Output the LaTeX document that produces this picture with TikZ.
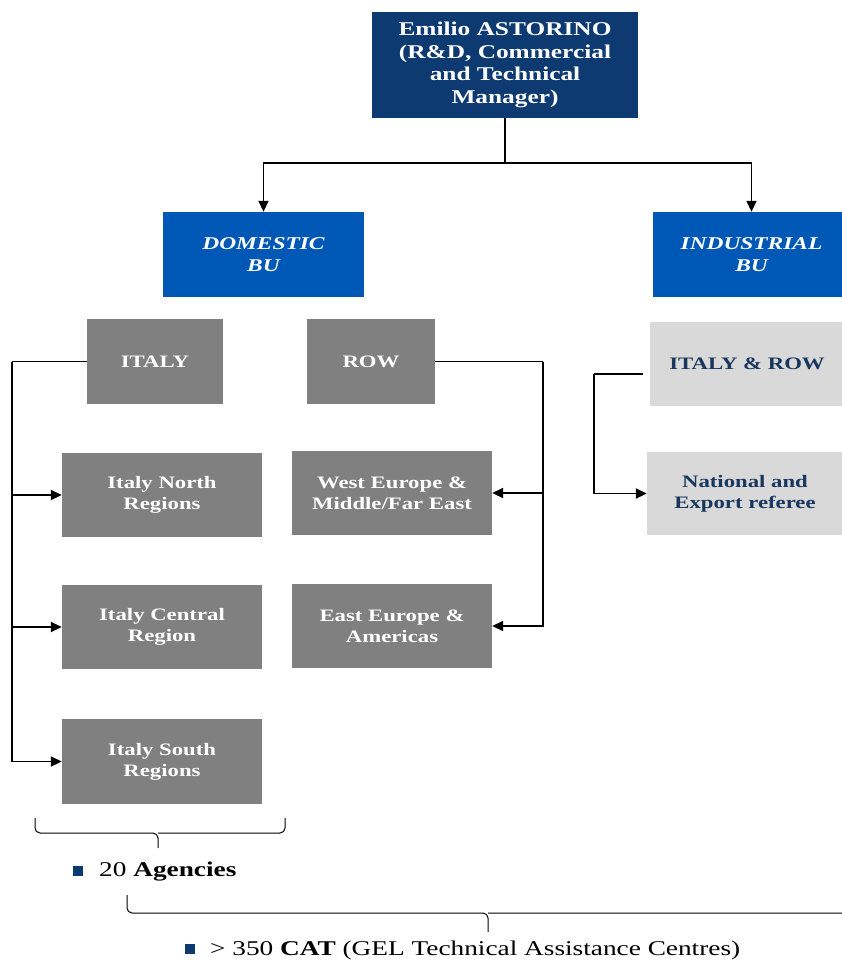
\documentclass[tikz,border=0pt]{standalone}
\usepackage{fontspec}
\setmainfont{Liberation Serif}[FakeStretch=1.3]
\usetikzlibrary{positioning, arrows.meta}

\definecolor{bossnavy}{RGB}{14,58,114}
\definecolor{bublue}{RGB}{0,88,182}
\definecolor{unitgrey}{RGB}{128,128,128}
\definecolor{lightgrey}{RGB}{217,217,217}
\definecolor{textnavy}{RGB}{23,55,94}

\begin{document}
\begin{tikzpicture}[x=1pt, y=-1pt,
  box/.style={rectangle, inner sep=2pt, align=center, text centered,
    font=\bfseries\fontsize{17.5}{21}\selectfont},
  boss/.style={box, fill=bossnavy, text=white, minimum width=266pt, minimum height=106pt,
    font=\bfseries\fontsize{19.5}{22.5}\selectfont},
  bu/.style={box, fill=bublue, text=white, minimum height=85pt,
    font=\bfseries\itshape\fontsize{18}{22}\selectfont},
  unit/.style={box, fill=unitgrey, text=white, minimum height=84pt},
  light/.style={box, fill=lightgrey, text=textnavy, minimum height=84pt},
  arrow/.style={-{Triangle[length=11pt, width=10pt]}, line width=1.8pt},
  link/.style={line width=1.8pt},
  note/.style={anchor=west, inner sep=0pt, font=\fontsize{21}{24}\selectfont}
]
\useasboundingbox (0,0) rectangle (842,963);

% top level
\node[boss] (boss) at (505,65)
  {Emilio ASTORINO\\(R\&D, Commercial\\and Technical\\Manager)};

% business units
\node[bu, minimum width=201pt] (domestic) at (263.5,254.5) {DOMESTIC\\BU};
\node[bu, minimum width=197pt] (industrial) at (751.5,254.5) {INDUSTRIAL\\BU};

% domestic BU
\node[unit, minimum width=136pt, minimum height=85pt] (italy) at (155,361.5) {ITALY};
\node[unit, minimum width=128pt, minimum height=85pt] (row) at (371,361.5) {ROW};
\node[unit, minimum width=200pt] (north) at (162,495) {Italy North\\Regions};
\node[unit, minimum width=200pt] (central) at (162,627) {Italy Central\\Region};
\node[unit, minimum width=200pt, minimum height=85pt] (south) at (162,761.5) {Italy South\\Regions};
\node[unit, minimum width=200pt] (west) at (392,493) {West Europe \&\\Middle/Far East};
\node[unit, minimum width=200pt] (east) at (392,626) {East Europe \&\\Americas};

% industrial BU
\node[light, minimum width=194pt] (itrow) at (747,364) {ITALY \& ROW};
\node[light, minimum width=196pt, minimum height=83pt] (referee) at (745,493.5)
  {National and\\Export referee};

% connectors
\coordinate (split) at (505,163);
\draw[link] (boss.south) -- (split);
\draw[arrow] (split) -| (domestic.north);
\draw[arrow] (split) -| (industrial.north);

\coordinate (itbus) at (12,361.5);
\draw[link] (italy.west) -- (itbus);
\draw[arrow] (itbus) |- (north.west);
\draw[arrow] (itbus) |- (central.west);
\draw[arrow] (itbus) |- (south.west);

\coordinate (rowbus) at (543,361.5);
\draw[link] (row.east) -- (rowbus);
\draw[arrow] (rowbus) |- (west.east);
\draw[arrow] (rowbus) |- (east.east);

\coordinate (irstart) at (643,374);
\coordinate (irbus) at (594,374);
\draw[link] (irstart) -- (irbus);
\draw[arrow] (irbus) |- (referee.west);

% braces and notes
\coordinate (agtip) at (158,848);
\draw[line width=1pt, rounded corners=5pt] (35,818) |- (158,833) -- (agtip);
\draw[line width=1pt, rounded corners=5pt] (285,818) |- (158,833);
\node[note] (agencies) at (73,872)
  {\textcolor{bossnavy}{\rule[1pt]{10pt}{10pt}}\hspace{16pt}20 \textbf{Agencies}};

\coordinate (cattip) at (488,932);
\draw[line width=1pt, rounded corners=5pt] (127,895) |- (488,913) -- (cattip);
\draw[line width=1pt, rounded corners=5pt] (849,895) |- (488,913);
\node[note] (cat) at (185,950)
  {\textcolor{bossnavy}{\rule[1pt]{10pt}{10pt}}\hspace{15pt}> 350 \textbf{CAT} (GEL Technical Assistance Centres)};

\end{tikzpicture}
\end{document}
